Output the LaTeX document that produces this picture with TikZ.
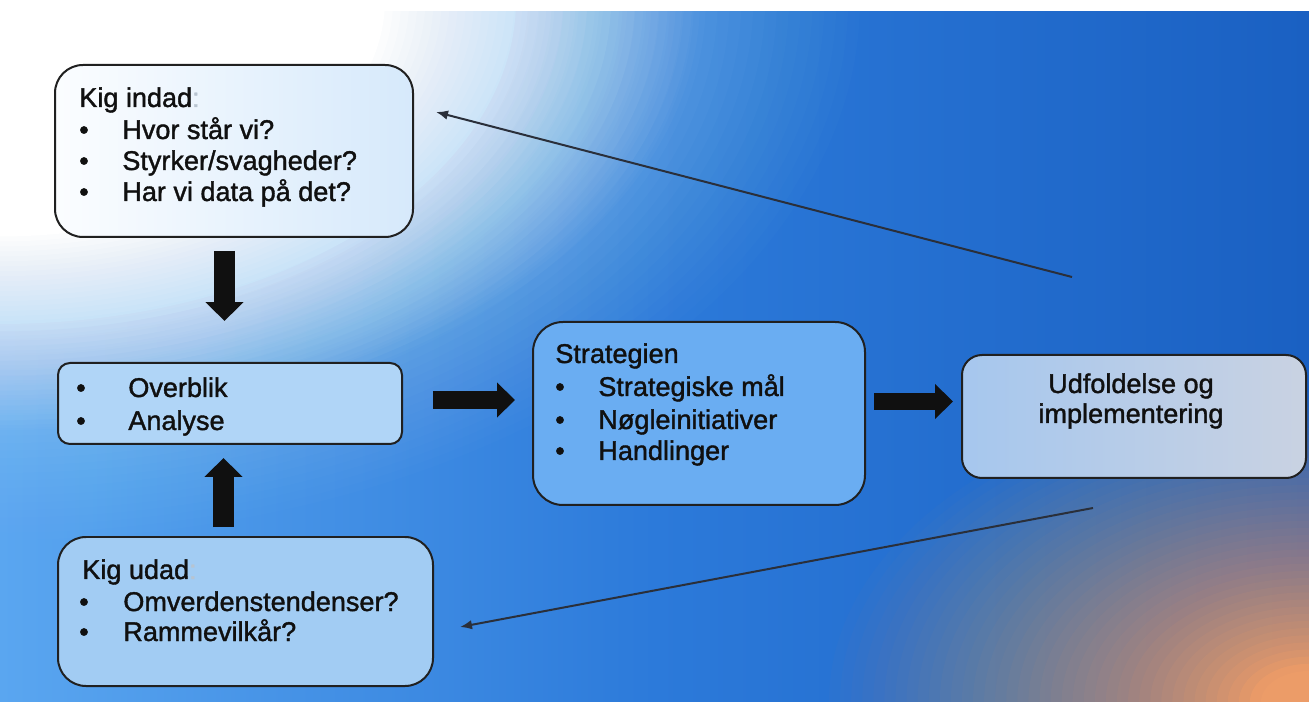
\documentclass[tikz,border=0pt]{standalone}
\usepackage{fontspec}
\setmainfont{Liberation Sans}
\newfontfamily\diagfont[FakeBold=1.4]{Liberation Sans}
\usetikzlibrary{arrows.meta,fit}
\definecolor{ink}{HTML}{101010}
\definecolor{boxline}{HTML}{202020}
\definecolor{bgL}{HTML}{5AA6F0}
\definecolor{bgM}{HTML}{2C7ADA}
\definecolor{bgR}{HTML}{1A60C2}
\definecolor{orng}{HTML}{EC9C68}
\definecolor{thinc}{HTML}{2A2F3A}
\definecolor{fIndL}{HTML}{FBFDFF}
\definecolor{fIndR}{HTML}{D6E9FB}
\definecolor{fOver}{HTML}{B0D5F7}
\definecolor{fUdad}{HTML}{A2CCF3}
\definecolor{fStrat}{HTML}{6AADF2}
\definecolor{fUdfL}{HTML}{A6C7EE}
\definecolor{fUdfR}{HTML}{C9D2E2}
\definecolor{colgray}{HTML}{B8C4D0}
\definecolor{skyb}{HTML}{9ACDF8}
\newcommand{\mainsz}{\diagfont\fontsize{15.4pt}{18pt}\selectfont}
\begin{document}
\begin{tikzpicture}[x=0.02cm,y=-0.02cm,
  box/.style={draw=boxline, line width=0.04cm, inner sep=0pt, outer sep=0pt},
  txt/.style={anchor=base west, inner sep=0pt, font=\mainsz, text=ink},
  bul/.style={anchor=base, inner sep=0pt, font=\mainsz, text=ink},
  ctr/.style={anchor=base, inner sep=0pt, font=\mainsz, text=ink},
  blkv/.style={draw=ink, line width=0.42cm, -{Triangle[width=0.74cm,length=0.38cm]}},
  blkh/.style={draw=ink, line width=0.36cm, -{Triangle[width=0.68cm,length=0.36cm]}},
  thin/.style={draw=thinc, line width=0.04cm, -{Latex[length=0.24cm,width=0.19cm]}}]
\useasboundingbox (0,0) rectangle (1309,702);
% background
\fill[white] (0,0) rectangle (1309,702);
\begin{scope}
\clip (0,12) rectangle (1309,702);
\shade[left color=bgL, right color=bgR, middle color=bgM] (0,12) rectangle (1309,702);
% soft orange glow, bottom right
\foreach \k in {1,...,40}{
  \pgfmathsetmacro\f{1-0.9*(\k-1)/39}
  \pgfmathsetmacro\a{0.9/(41-\k-0.9*(\k-1)/40)}
  \pgfmathsetmacro\rx{480*\f}
  \pgfmathsetmacro\ry{310*\f}
  \fill[orng, opacity=\a] (1309,702) ellipse [x radius=\rx, y radius=\ry];
}
% sky-blue halo then white glow, top left
\foreach \k in {1,...,30}{
  \pgfmathsetmacro\f{1-0.4*(\k-1)/29}
  \pgfmathsetmacro\a{0.7/(31-\k-0.7*(\k-1)/30)}
  \pgfmathsetmacro\rx{860*\f}
  \pgfmathsetmacro\ry{540*\f}
  \fill[skyb, opacity=\a] (0,0) ellipse [x radius=\rx, y radius=\ry];
}
\foreach \k in {1,...,40}{
  \pgfmathsetmacro\f{1-0.45*(\k-1)/39}
  \pgfmathsetmacro\a{1/(41-\k)}
  \pgfmathsetmacro\rx{700*\f}
  \pgfmathsetmacro\ry{430*\f}
  \fill[white, opacity=\a] (0,0) ellipse [x radius=\rx, y radius=\ry];
}
\end{scope}
% boxes
\node[box, left color=fIndL, right color=fIndR, rounded corners=0.56cm, fit={(55,65) (413,237)}] (indad) {};
\node[box, fill=fOver, rounded corners=0.24cm, fit={(58,363) (402,444)}] (over) {};
\node[box, fill=fUdad, rounded corners=0.56cm, fit={(58,537) (433,686)}] (udad) {};
\node[box, fill=fStrat, rounded corners=0.6cm, fit={(533,322) (865,505)}] (strat) {};
\node[box, left color=fUdfL, right color=fUdfR, rounded corners=0.4cm, fit={(962,355) (1306,478)}] (udf) {};
% texts: Kig indad
\node[txt] (ti0) at (79,107) {Kig indad\textcolor{colgray}{:}};
\node[bul] (bi1) at (84,139) {•};
\node[txt] (ti1) at (122,139) {Hvor står vi?};
\node[bul] (bi2) at (84,170) {•};
\node[txt] (ti2) at (122,170) {Styrker/svagheder?};
\node[bul] (bi3) at (84,201) {•};
\node[txt] (ti3) at (122,201) {Har vi data på det?};
% Overblik
\node[bul] (bo1) at (81,397) {•};
\node[txt] (to1) at (128,397) {Overblik};
\node[bul] (bo2) at (81,430) {•};
\node[txt] (to2) at (128,430) {Analyse};
% Kig udad
\node[txt] (tu0) at (82,579) {Kig udad\textcolor{colgray}{:}};
\node[bul] (bu1) at (84,611) {•};
\node[txt] (tu1) at (123,611) {Omverdenstendenser?};
\node[bul] (bu2) at (84,641) {•};
\node[txt] (tu2) at (123,641) {Rammevilkår?};
% Strategien
\node[txt] (ts0) at (555,363) {Strategien};
\node[bul] (bs1) at (560,396) {•};
\node[txt] (ts1) at (598,396) {Strategiske mål};
\node[bul] (bs2) at (560,429) {•};
\node[txt] (ts2) at (598,429) {Nøgleinitiativer};
\node[bul] (bs3) at (560,460) {•};
\node[txt] (ts3) at (598,460) {Handlinger};
% Udfoldelse
\node[ctr] (tf1) at (1131,393) {Udfoldelse og};
\node[ctr] (tf2) at (1131,423) {implementering};
% block arrows
\coordinate (ax1) at (224.5,0);
\coordinate (ax2) at (223.5,0);
\coordinate (ay1) at (0,400);
\coordinate (ay2) at (0,401.5);
\draw[blkv, shorten <=0.28cm, shorten >=0.84cm] (indad.south -| ax1) -- (over.north -| ax1);
\draw[blkv, shorten <=0.2cm, shorten >=0.28cm] (udad.north -| ax2) -- (over.south -| ax2);
\draw[blkh, shorten <=0.62cm, shorten >=0.36cm] (over.east |- ay1) -- (strat.west |- ay1);
\draw[blkh, shorten <=0.18cm, shorten >=0.18cm] (strat.east |- ay2) -- (udf.west |- ay2);
% thin feedback arrows
\coordinate (s1) at (1072,277);
\coordinate (e1) at (436,112);
\coordinate (s2) at (1093,508);
\coordinate (e2) at (460,627);
\draw[thin] (s1) -- (e1);
\draw[thin] (s2) -- (e2);
\end{tikzpicture}
\end{document}
